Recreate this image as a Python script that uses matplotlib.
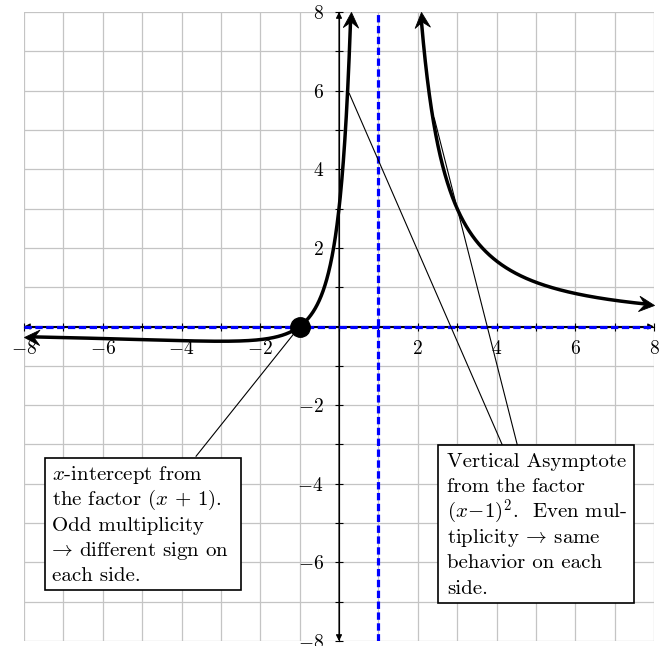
import numpy as np
import matplotlib.pyplot as plt
from matplotlib.patches import Rectangle
from matplotlib.path import Path
from matplotlib.markers import MarkerStyle
from matplotlib.transforms import Affine2D

plt.rcParams['font.family'] = 'cmr10'
plt.rcParams['mathtext.fontset'] = 'cm'
plt.rcParams['axes.unicode_minus'] = False

# f(x) = a (x + 1) / (x - 1)^2
a = 3.0
zero_x = -1.0
pole_x = 1.0
left_domain = [-8.0, 0.301]
right_domain = [2.074, 8.0]
x_ticks = list(range(-8, 9))
y_ticks = list(range(-8, 9))

left_note = ["$x$-intercept from",
             "the factor $(x\\,+\\,1)$.",
             "Odd multiplicity",
             "$\\!\\!\\rightarrow\\!$ different sign on",
             "each side."]
right_note = ["Vertical Asymptote",
              "from the factor",
              "$(x\\!-\\!1)^2$.  Even mul-",
              "tiplicity $\\!\\rightarrow\\!$ same",
              "behavior on each",
              "side."]
left_pointer = [(-1.0, 0.0), (-3.63, -3.30)]
right_pointers = [[(0.26, 5.93), (4.15, -3.02)], [(2.42, 5.30), (4.53, -3.02)]]


def f(x):
    return a * (x - zero_x) / (x - pole_x) ** 2


# stealth-like arrow head, tip at origin pointing to +x
stealth = Path([(0, 0), (-1, 0.5), (-0.62, 0), (-1, -0.5), (0, 0)],
               [Path.MOVETO, Path.LINETO, Path.LINETO, Path.LINETO, Path.CLOSEPOLY])
head_len = 0.38  # in data units (about 15 px)

fig = plt.figure(figsize=(6.68, 6.46), dpi=100)
ax = fig.add_axes([24 / 668, 5 / 646, 630 / 668, 629 / 646])
ax.set_xlim(-8, 8)
ax.set_ylim(-8, 8)

# grid and axes
ax.set_xticks(x_ticks)
ax.set_yticks(y_ticks)
ax.grid(True, color='#c4c4c4', lw=0.9)
ax.set_axisbelow(True)
for s in ['top', 'right']:
    ax.spines[s].set_visible(False)
ax.spines['left'].set_position('zero')
ax.spines['bottom'].set_position('zero')
ax.spines['left'].set_linewidth(0.8)
ax.spines['bottom'].set_linewidth(0.8)
lab = lambda v, p: '' if (v == 0 or int(v) % 2) else '$%d$' % v
ax.xaxis.set_major_formatter(plt.FuncFormatter(lab))
ax.yaxis.set_major_formatter(plt.FuncFormatter(lab))
ax.tick_params(direction='inout', length=6, width=0.8, labelsize=14)
ax.tick_params(axis='x', pad=7)
ax.tick_params(axis='y', pad=8)

ax.annotate('', xy=(8, 0), xytext=(-8, 0),
            arrowprops=dict(arrowstyle='<|-|>', lw=0.8, color='k',
                            mutation_scale=9, shrinkA=0, shrinkB=0))
ax.annotate('', xy=(0, 8), xytext=(0, -8),
            arrowprops=dict(arrowstyle='<|-|>', lw=0.8, color='k',
                            mutation_scale=9, shrinkA=0, shrinkB=0))

# asymptotes
ax.axvline(pole_x, color='#0000ff', lw=2.3, dashes=(2.3, 1.1), zorder=3)
ax.axhline(0, color='#0000ff', lw=2.3, dashes=(2.3, 1.1), zorder=3)

# pointer lines
ax.plot(*zip(*left_pointer), color='k', lw=0.8, zorder=4)
for seg in right_pointers:
    ax.plot(*zip(*seg), color='k', lw=0.8, zorder=4)

# curve pieces with arrowheads
for lo, hi in [left_domain, right_domain]:
    xs = np.linspace(lo, hi, 4000)
    ys = f(xs)
    arc = np.concatenate([[0], np.cumsum(np.hypot(np.diff(xs), np.diff(ys)))])
    i_lo = np.searchsorted(arc, 0.6 * head_len)
    i_hi = np.searchsorted(arc, arc[-1] - 0.6 * head_len)
    ax.plot(xs[i_lo:i_hi], ys[i_lo:i_hi], color='k', lw=2.5, zorder=5,
            solid_capstyle='butt')
    j_lo = np.searchsorted(arc, head_len)
    j_hi = np.searchsorted(arc, arc[-1] - head_len)
    for i0, i1 in [(j_lo, 0), (j_hi, -1)]:
        ang = np.degrees(np.arctan2(ys[i1] - ys[i0], xs[i1] - xs[i0]))
        m = MarkerStyle(stealth, transform=Affine2D().rotate_deg(ang))
        ax.plot(xs[i1], ys[i1], marker=m, ms=22, color='k', mew=0.6,
                zorder=6, clip_on=False)

ax.plot(zero_x, 0, 'o', color='k', ms=14, zorder=7)

# note boxes
line_step = 0.644
ax.add_patch(Rectangle((-7.47, -6.70), 4.98, 3.36, fc='white', ec='k', lw=1.2, zorder=8))
for k, line in enumerate(left_note):
    ax.text(-7.30, -3.905 - k * line_step, line, fontsize=15, va='baseline',
            ha='left', zorder=9)
ax.add_patch(Rectangle((2.51, -7.03), 4.98, 4.01, fc='white', ec='k', lw=1.2, zorder=8))
for k, line in enumerate(right_note):
    ax.text(2.74, -3.575 - k * line_step, line, fontsize=15, va='baseline',
            ha='left', zorder=9)

fig.savefig('out.png', dpi=100)
